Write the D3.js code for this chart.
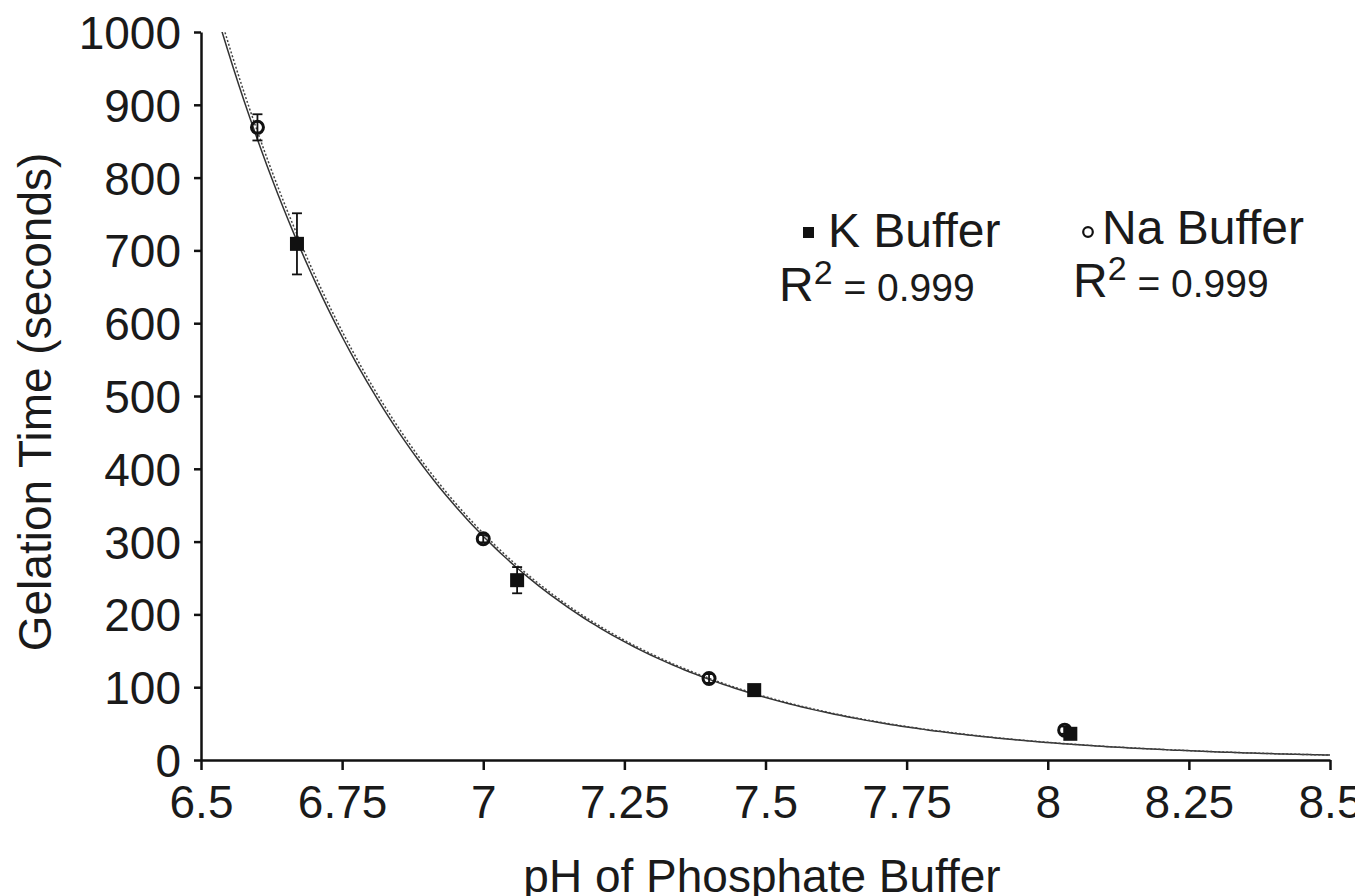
<!DOCTYPE html>
<html>
<head>
<meta charset="utf-8">
<script src="https://cdn.jsdelivr.net/npm/d3@7"></script>
<style>
  html, body { margin: 0; padding: 0; background: #fff; }
  svg { display: block; font-family: "Liberation Sans", Arial, Helvetica, sans-serif; }
</style>
</head>
<body>
<svg id="chart" width="1355" height="896"></svg>
<script>
// Measured gelation times (seconds) for each phosphate buffer
const kPH = [6.67, 7.06, 7.48, 8.04];
const kTime = [709, 247, 96, 36];
const kErr = [42, 18, 4, 3];

const naPH = [6.60, 7.00, 7.40, 8.03];
const naTime = [869, 304, 112, 41];
const naErr = [18, 5, 6, 5];

// Exponential trendlines: time = a * exp(-b * (pH - 6.5))
const kFit = [1100, 2.55];
const naFit = [1114, 2.55];

const xTicks = [6.5, 6.75, 7, 7.25, 7.5, 7.75, 8, 8.25, 8.5];
const yTicks = [0, 100, 200, 300, 400, 500, 600, 700, 800, 900, 1000];

const svg = d3.select("#chart");
const plotLeft = 201, plotRight = 1330, plotTop = 32, plotBottom = 760;

const x = d3.scaleLinear().domain([6.5, 8.5]).range([plotLeft, plotRight]);
const y = d3.scaleLinear().domain([0, 1000]).range([plotBottom, plotTop]);

svg.append("defs").append("clipPath").attr("id", "plot")
  .append("rect").attr("x", plotLeft).attr("y", plotTop)
  .attr("width", plotRight - plotLeft).attr("height", plotBottom - plotTop);

// Axes
const xAxis = svg.append("g").attr("transform", `translate(0,${plotBottom})`)
  .call(d3.axisBottom(x).tickValues(xTicks).tickSize(10).tickSizeOuter(0)
    .tickFormat(d => String(+d.toFixed(2))));
const yAxis = svg.append("g").attr("transform", `translate(${plotLeft},0)`)
  .call(d3.axisLeft(y).tickValues(yTicks).tickSize(7).tickSizeOuter(0)
    .tickFormat(d3.format("d")));

[xAxis, yAxis].forEach(g => {
  g.select(".domain").attr("stroke", "#111").attr("stroke-width", 2.5);
  g.selectAll(".tick line").attr("stroke", "#111").attr("stroke-width", 2.5);
  g.selectAll(".tick text").attr("fill", "#1a1a1a").style("font-size", "46px");
});
xAxis.selectAll(".tick text").attr("dy", null).attr("y", 58);
yAxis.selectAll(".tick text").attr("x", -20).attr("dy", "0.36em");

// Axis titles
svg.append("text").attr("x", 762).attr("y", 892).attr("text-anchor", "middle")
  .attr("fill", "#1a1a1a").style("font-size", "46px").text("pH of Phosphate Buffer");
svg.append("text").attr("transform", "translate(51,402) rotate(-90)")
  .attr("text-anchor", "middle").attr("fill", "#1a1a1a").style("font-size", "46px")
  .text("Gelation Time (seconds)");

// Trendlines
function fitPoints(fit) {
  const x0 = 6.5 + Math.log(fit[0] / 1000) / fit[1] - 0.01;
  return d3.range(0, 201).map(i => {
    const p = x0 + (8.5 - x0) * i / 200;
    return [p, fit[0] * Math.exp(-fit[1] * (p - 6.5))];
  });
}
const line = d3.line().x(d => x(d[0])).y(d => y(d[1])).curve(d3.curveLinear);
const plot = svg.append("g").attr("clip-path", "url(#plot)");
plot.append("path").attr("d", line(fitPoints(kFit)))
  .attr("fill", "none").attr("stroke", "#333").attr("stroke-width", 1.5);
plot.append("path").attr("d", line(fitPoints(naFit)))
  .attr("fill", "none").attr("stroke", "#444").attr("stroke-width", 1.5)
  .attr("stroke-dasharray", "2,2");

// Error bars
function errorBars(ph, t, err) {
  const g = svg.append("g").attr("stroke", "#111").attr("stroke-width", 1.8);
  ph.forEach((p, i) => {
    const cx = x(p), y1 = y(t[i] + err[i]), y2 = y(t[i] - err[i]);
    g.append("line").attr("x1", cx).attr("x2", cx).attr("y1", y1).attr("y2", y2);
    g.append("line").attr("x1", cx - 5).attr("x2", cx + 5).attr("y1", y1).attr("y2", y1);
    g.append("line").attr("x1", cx - 5).attr("x2", cx + 5).attr("y1", y2).attr("y2", y2);
  });
}
errorBars(naPH, naTime, naErr);
errorBars(kPH, kTime, kErr);

// Markers
svg.append("g").selectAll("circle").data(naPH).join("circle")
  .attr("cx", d => x(d)).attr("cy", (d, i) => y(naTime[i])).attr("r", 6)
  .attr("fill", "none").attr("stroke", "#111").attr("stroke-width", 3);
svg.append("g").selectAll("rect").data(kPH).join("rect")
  .attr("x", d => x(d) - 7).attr("y", (d, i) => y(kTime[i]) - 7)
  .attr("width", 14).attr("height", 14).attr("fill", "#111");

// Legend with fit quality
const legend = svg.append("g").attr("fill", "#1a1a1a");
legend.append("rect").attr("x", 803).attr("y", 227).attr("width", 11).attr("height", 11).attr("fill", "#111");
legend.append("text").attr("x", 828).attr("y", 247).style("font-size", "48px").text("K Buffer");
legend.append("circle").attr("cx", 1088).attr("cy", 232).attr("r", 4.8)
  .attr("fill", "none").attr("stroke", "#111").attr("stroke-width", 2.2);
legend.append("text").attr("x", 1102).attr("y", 244).style("font-size", "48px").text("Na Buffer");

function r2Label(tx, ty) {
  const t = legend.append("text").attr("x", tx).attr("y", ty);
  t.append("tspan").style("font-size", "48px").text("R");
  t.append("tspan").attr("dy", -17).style("font-size", "34px").text("2");
  t.append("tspan").attr("dy", 17).style("font-size", "39px").text(" = 0.999");
}
r2Label(779, 301);
r2Label(1073, 297);
</script>
</body>
</html>
